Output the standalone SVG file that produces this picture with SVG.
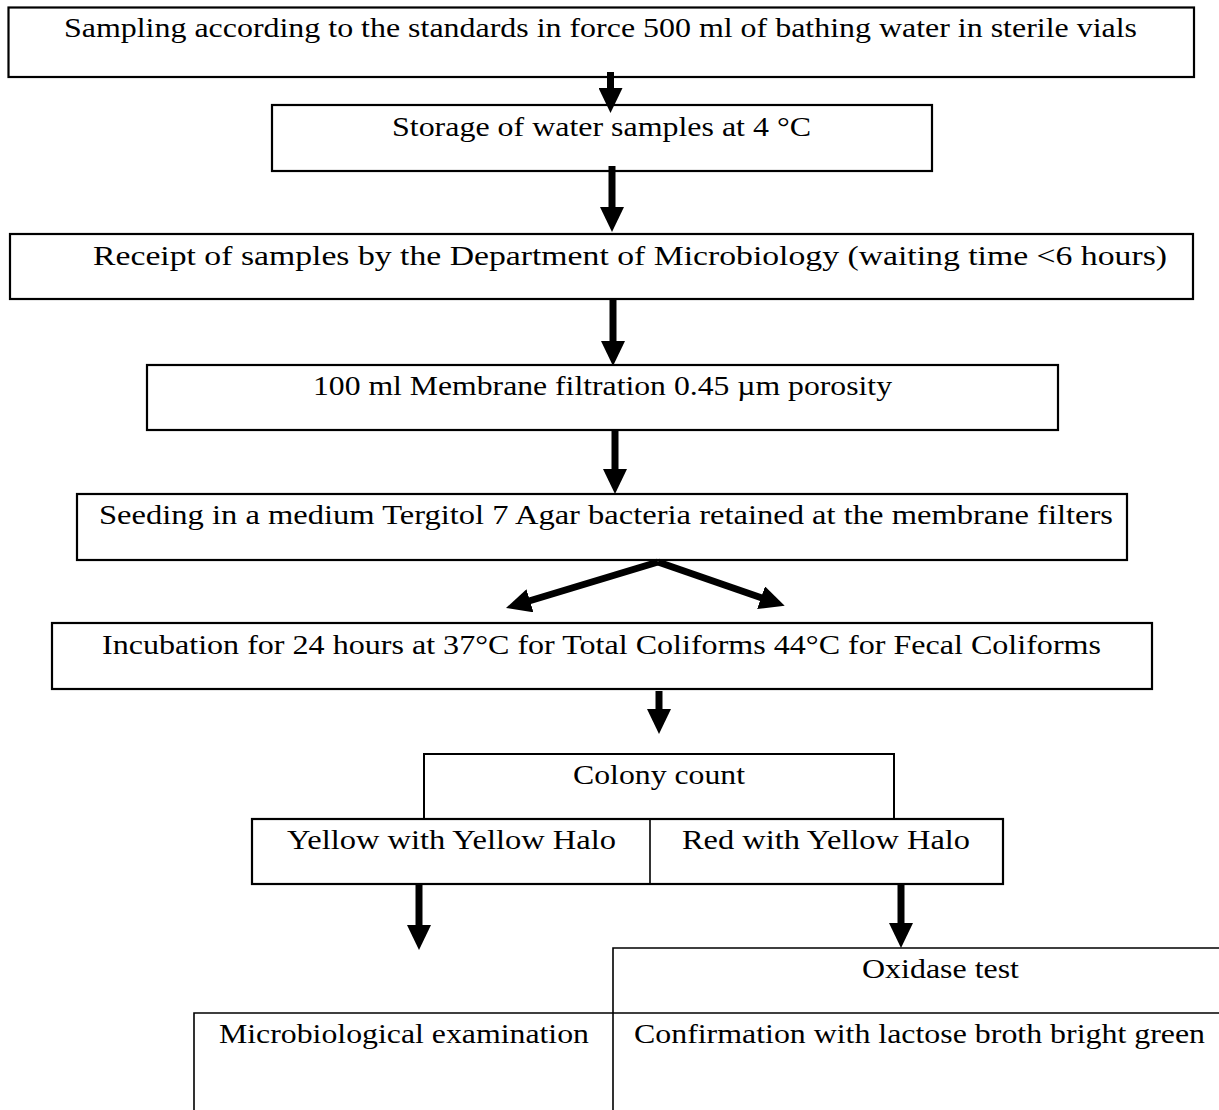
<svg xmlns="http://www.w3.org/2000/svg" width="1219" height="1110" viewBox="0 0 1219 1110">
<defs>
<marker id="ah" markerUnits="userSpaceOnUse" markerWidth="25" markerHeight="24" viewBox="0 0 25 24" refX="1" refY="12" orient="auto">
<path d="M0,0 L25,12 L0,24 z" fill="#000"/>
</marker>
</defs>
<style>
.box{fill:none;stroke:#000;stroke-width:2.2}
.thin{fill:none;stroke:#000;stroke-width:1.6}
.t{font-family:"Liberation Serif","Times New Roman",serif;font-size:28px;fill:#000;text-anchor:start}
.arr{stroke:#000;stroke-width:7;fill:none;marker-end:url(#ah)}
</style>
<rect width="1219" height="1110" fill="#fff"/>
<g id="connectors">
<line class="arr" x1="610.5" y1="72" x2="610.5" y2="89"/>
<line class="arr" x1="612" y1="166" x2="612" y2="208"/>
<line class="arr" x1="613" y1="299" x2="613" y2="342"/>
<line class="arr" x1="615" y1="430" x2="615" y2="470"/>
<line class="arr" x1="658" y1="562" x2="529" y2="601"/>
<line class="arr" x1="658" y1="562" x2="762" y2="598"/>
<line class="arr" x1="659" y1="691" x2="659" y2="710"/>
<line class="arr" x1="419" y1="884" x2="419" y2="926"/>
<line class="arr" x1="901" y1="884" x2="901" y2="924"/>
</g>
<g id="n1">
<rect class="box" x="8.5" y="7.5" width="1185.5" height="69.5"/>
<text class="t" x="64" y="37" textLength="1073" lengthAdjust="spacingAndGlyphs">Sampling according to the standards in force 500 ml of bathing water in sterile vials</text>
</g>
<g id="n2">
<rect class="box" x="272" y="105" width="660" height="66"/>
<text class="t" x="392" y="136" textLength="419" lengthAdjust="spacingAndGlyphs">Storage of water samples at 4 °C</text>
</g>
<g id="n3">
<rect class="box" x="10" y="234" width="1183" height="65"/>
<text class="t" x="93" y="265" textLength="1074" lengthAdjust="spacingAndGlyphs">Receipt of samples by the Department of Microbiology (waiting time &lt;6 hours)</text>
</g>
<g id="n4">
<rect class="box" x="147" y="365" width="911" height="65"/>
<text class="t" x="313" y="395" textLength="579" lengthAdjust="spacingAndGlyphs">100 ml Membrane filtration 0.45 µm porosity</text>
</g>
<g id="n5">
<rect class="box" x="77" y="494" width="1050" height="66"/>
<text class="t" x="99" y="524" textLength="1014" lengthAdjust="spacingAndGlyphs">Seeding in a medium Tergitol 7 Agar bacteria retained at the membrane filters</text>
</g>
<g id="n6">
<rect class="box" x="52" y="623" width="1100" height="66"/>
<text class="t" x="102" y="654" textLength="999" lengthAdjust="spacingAndGlyphs">Incubation for 24 hours at 37°C for Total Coliforms 44°C for Fecal Coliforms</text>
</g>
<g id="n7">
<path class="thin" d="M424,819 V754 H894 V819" style="stroke-width:2"/>
<text class="t" x="573" y="784" textLength="172" lengthAdjust="spacingAndGlyphs">Colony count</text>
</g>
<g id="n8">
<rect class="box" x="252" y="819" width="751" height="65"/>
<line class="thin" x1="650" y1="819" x2="650" y2="884"/>
<text class="t" x="287" y="849" textLength="329" lengthAdjust="spacingAndGlyphs">Yellow with Yellow Halo</text>
<text class="t" x="682" y="849" textLength="288" lengthAdjust="spacingAndGlyphs">Red with Yellow Halo</text>
</g>
<g id="n9">
<path class="thin" d="M613,1013 V948 H1219"/>
<text class="t" x="862" y="978" textLength="157" lengthAdjust="spacingAndGlyphs">Oxidase test</text>
</g>
<g id="n10">
<path class="thin" d="M194,1110 V1013 H1219 M613,1013 V1110"/>
<text class="t" x="219" y="1043" textLength="370" lengthAdjust="spacingAndGlyphs">Microbiological examination</text>
<text class="t" x="634" y="1043" textLength="571" lengthAdjust="spacingAndGlyphs">Confirmation with lactose broth bright green</text>
</g>
</svg>
